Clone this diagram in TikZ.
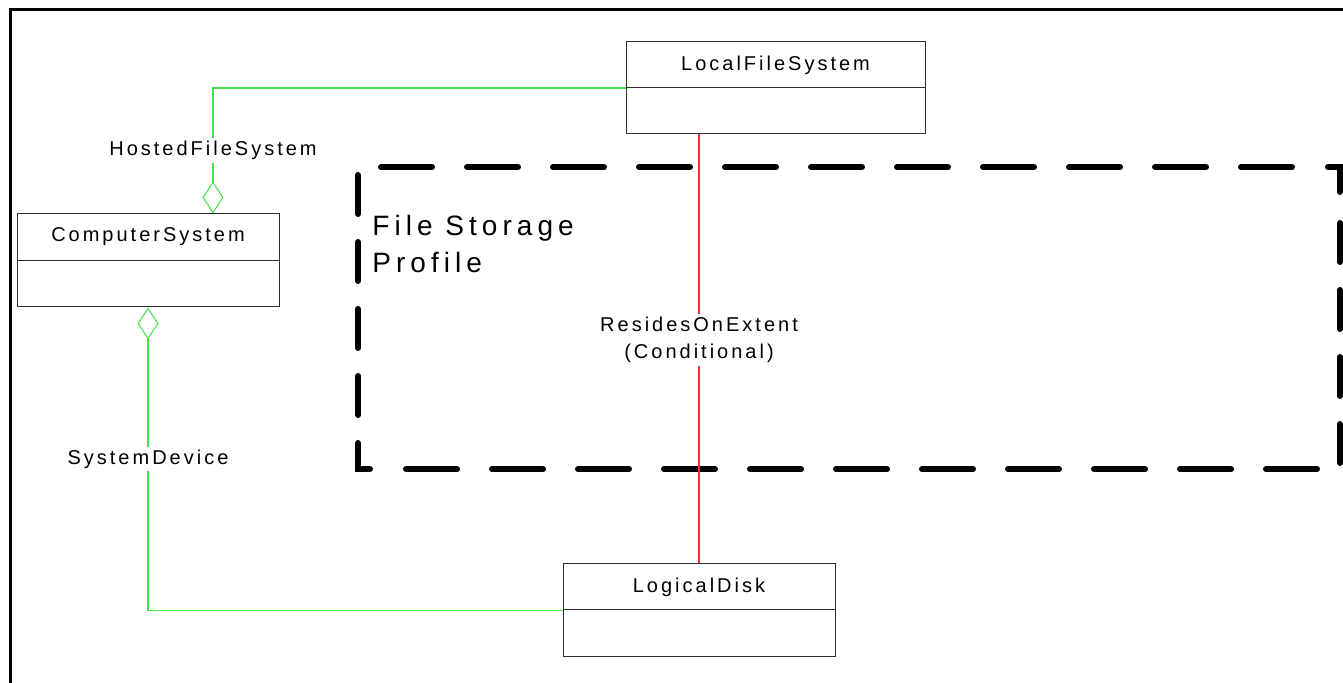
\documentclass[tikz,border=0pt]{standalone}
\usepackage{fontspec}
\setmainfont{Liberation Sans}[LetterSpace=15]
\newfontfamily\titlefont{Liberation Sans}[LetterSpace=18]
\usetikzlibrary{arrows.meta}
\definecolor{assocgreen}{RGB}{70,225,70}
\definecolor{assocred}{RGB}{240,50,50}
\definecolor{boxgray}{RGB}{45,45,45}
\begin{document}
\begin{tikzpicture}[x=0.5pt,y=-0.5pt,
  umlbox/.style={draw=boxgray, line width=0.5pt, inner sep=0pt},
  boxtitle/.style={font=\fontsize{10}{12}\selectfont, inner sep=0pt},
  assoc/.style={draw=assocgreen, line width=0.75pt},
  assocr/.style={draw=assocred, line width=0.6pt},
  agg/.tip={Diamond[open, length=16pt, width=10.5pt, line width=0.5pt]},
  lbl/.style={font=\fontsize{10}{13.5}\selectfont, fill=white, inner sep=1.5pt, align=center},
  dashfr/.style={line width=3pt, line cap=round, line join=miter}]
\useasboundingbox (0,0) rectangle (1343,683);
% outer frame
\draw[line width=1.5pt] (10,683) -- (10,10) -- (1343,10);
% dashed profile frame
\foreach \k in {0,...,10} { \draw[dashfr] (381+86*\k,167) -- (432+86*\k,167); }
\draw[dashfr] (1328,167) -- (1340,167) -- (1340,192);
\foreach \k in {0,...,3} { \draw[dashfr] (1340,223+67*\k) -- (1340,262+67*\k); }
\foreach \k in {0,...,3} { \draw[dashfr] (358,175+67*\k) -- (358,214+67*\k); }
\draw[dashfr] (358,443) -- (358,469) -- (370,469);
\foreach \k in {0,...,10} { \draw[dashfr] (406+86*\k,469) -- (457+86*\k,469); }
\node[anchor=north west, inner sep=0pt, align=left, font=\titlefont\fontsize{14}{18.5}\selectfont] (title) at (372,215) {File Storage\\Profile};
% class boxes
\node[umlbox, minimum width=149.5pt, minimum height=46pt] (lfs) at (775.5,88) {};
\node[umlbox, minimum width=131pt, minimum height=46.5pt] (cs) at (148,260.5) {};
\node[umlbox, minimum width=136pt, minimum height=46.5pt] (ld) at (699,609.5) {};
\draw[boxgray, line width=0.5pt] (lfs.west) -- (lfs.east);
\draw[boxgray, line width=0.5pt] (cs.west) -- (cs.east);
\draw[boxgray, line width=0.5pt] (ld.west) -- (ld.east);
\node[boxtitle] (lfst) at (775.5,65.5) {LocalFileSystem};
\node[boxtitle] (cst) at (148,237) {ComputerSystem};
\node[boxtitle] (ldt) at (699,587.5) {LogicalDisk};
% connectors
\coordinate (hfx) at (213,0);
\coordinate (sdy) at (0,610.5);
\draw[assoc, -agg] (lfs.west) -| (cs.north -| hfx)
  node[lbl, pos=0.75] (hfl) {HostedFileSystem};
\draw[assoc, agg-] (cs.south) |- (ld.west |- sdy)
  node[lbl, pos=0.25] (sdl) {SystemDevice};
\draw[assocr] (ld.north |- lfs.south) -- (ld.north)
  node[lbl, pos=0.48] (rol) {ResidesOnExtent\\(Conditional)};
\end{tikzpicture}
\end{document}
